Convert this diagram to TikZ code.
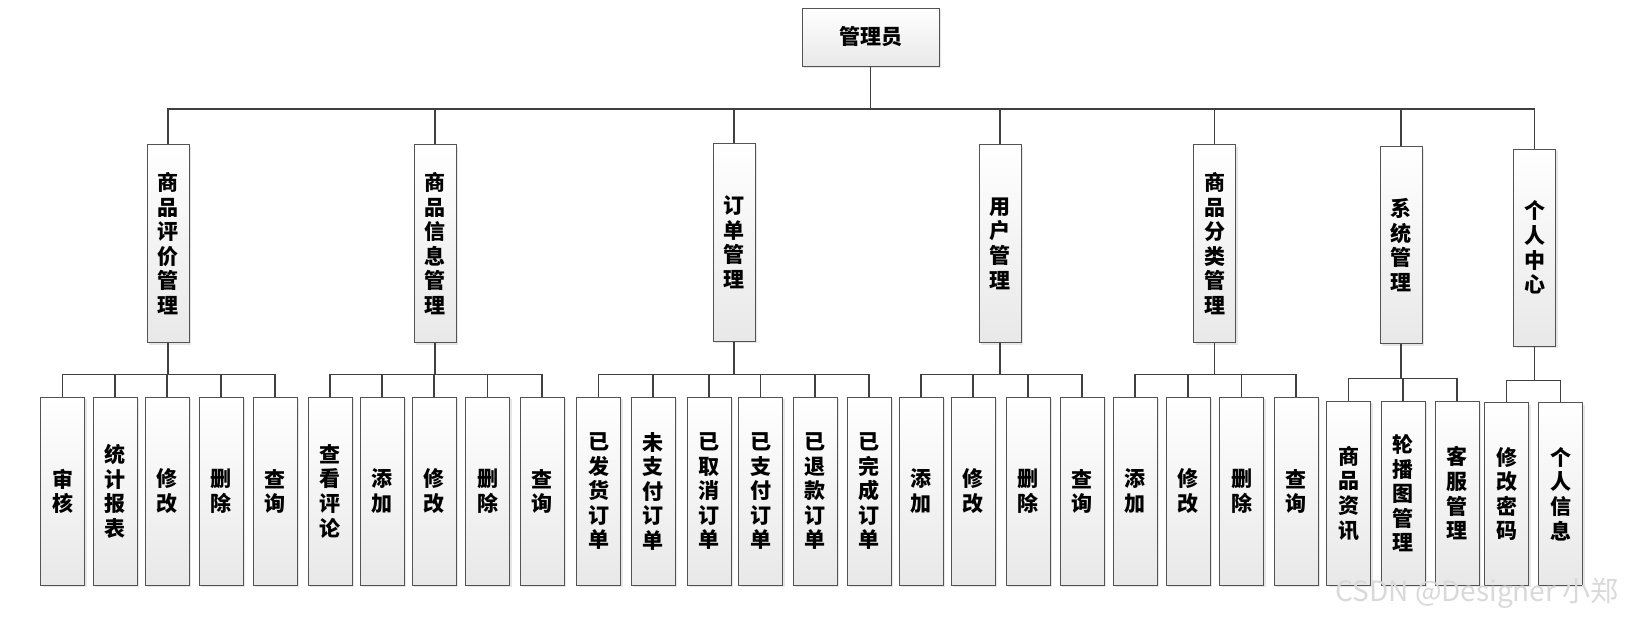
\documentclass[tikz,border=0pt]{standalone}
\usepackage{fontspec}
\setmainfont{Noto Sans CJK SC}
\usetikzlibrary{shadows}

\tikzset{
  box/.style={draw=gray!65!black, line width=0.8pt, top color=white, bottom color=gray!18,
    drop shadow={shadow xshift=2pt, shadow yshift=-2pt, opacity=0.2},
    inner sep=0pt, align=center, font=\bfseries\fontsize{21}{24.6}\selectfont},
  topbox/.style={box, minimum width=137pt, minimum height=58pt},
  midbox/.style={box, minimum width=42pt, minimum height=198pt},
  leafbox/.style={box, minimum width=44pt, minimum height=188pt},
  link/.style={draw=black!75, line width=1.3pt}
}

\begin{document}
\begin{tikzpicture}[x=1pt,y=-1pt]
\useasboundingbox (0,0) rectangle (1639,621);

% root
\draw (870.5,37) node[topbox] (root) {管理员};

% modules
\draw (168,243.6) node[midbox] (pj) {商\\品\\评\\价\\管\\理};
\draw (435,243.6) node[midbox] (xx) {商\\品\\信\\息\\管\\理};
\draw (734,242.4) node[midbox] (dd) {订\\单\\管\\理};
\draw (1000,243.6) node[midbox] (yh) {用\\户\\管\\理};
\draw (1214.5,243.6) node[midbox] (fl) {商\\品\\分\\类\\管\\理};
\draw (1401,245.1) node[midbox,minimum height=197pt] (xt) {系\\统\\管\\理};
\draw (1534.5,247.5) node[midbox,minimum height=197pt] (gr) {个\\人\\中\\心};

% bus lines
\coordinate (bus) at (0,108.9);
\coordinate (pjb) at (0,374.7);
\coordinate (xxb) at (0,374.7);
\coordinate (ddb) at (0,374.7);
\coordinate (yhb) at (0,374.7);
\coordinate (flb) at (0,374.7);
\coordinate (xtb) at (0,378.2);
\coordinate (grb) at (0,380.2);

% leaves
\draw (62.5,491.3) node[leafbox] (pj1) {审\\核};
\draw (115,491.3) node[leafbox] (pj2) {统\\计\\报\\表};
\draw (167,491.3) node[leafbox] (pj3) {修\\改};
\draw (221,491.3) node[leafbox] (pj4) {删\\除};
\draw (275,491.3) node[leafbox] (pj5) {查\\询};

\draw (330,491.3) node[leafbox] (xx1) {查\\看\\评\\论};
\draw (382,491.3) node[leafbox] (xx2) {添\\加};
\draw (434,491.3) node[leafbox] (xx3) {修\\改};
\draw (487.5,491.3) node[leafbox] (xx4) {删\\除};
\draw (542,491.3) node[leafbox] (xx5) {查\\询};

\draw (598.5,491.3) node[leafbox] (dd1) {已\\发\\货\\订\\单};
\draw (653,491.3) node[leafbox] (dd2) {未\\支\\付\\订\\单};
\draw (709,491.3) node[leafbox] (dd3) {已\\取\\消\\订\\单};
\draw (760.5,491.3) node[leafbox] (dd4) {已\\支\\付\\订\\单};
\draw (815,491.3) node[leafbox] (dd5) {已\\退\\款\\订\\单};
\draw (869,491.3) node[leafbox] (dd6) {已\\完\\成\\订\\单};

\draw (921,491.3) node[leafbox] (yh1) {添\\加};
\draw (973,491.3) node[leafbox] (yh2) {修\\改};
\draw (1028,491.3) node[leafbox] (yh3) {删\\除};
\draw (1082,491.3) node[leafbox] (yh4) {查\\询};

\draw (1135,491.3) node[leafbox] (fl1) {添\\加};
\draw (1188,491.3) node[leafbox] (fl2) {修\\改};
\draw (1241.5,491.3) node[leafbox] (fl3) {删\\除};
\draw (1296,491.3) node[leafbox] (fl4) {查\\询};

\draw (1348.5,493.3) node[leafbox,minimum height=184pt] (xt1) {商\\品\\资\\讯};
\draw (1403,493.3) node[leafbox,minimum height=184pt] (xt2) {轮\\播\\图\\管\\理};
\draw (1457,493.3) node[leafbox,minimum height=184pt] (xt3) {客\\服\\管\\理};

\draw (1506.5,494) node[leafbox,minimum height=182.5pt] (gr1) {修\\改\\密\\码};
\draw (1560.5,494) node[leafbox,minimum height=182.5pt] (gr2) {个\\人\\信\\息};

% connectors
\foreach \m in {pj,xx,dd,yh,fl,xt,gr}
  \draw[link] (root.south) -- (root.south |- bus) -| (\m.north);
\foreach \i in {1,...,5} \draw[link] (pj.south) -- (pj.south |- pjb) -| (pj\i.north);
\foreach \i in {1,...,5} \draw[link] (xx.south) -- (xx.south |- xxb) -| (xx\i.north);
\foreach \i in {1,...,6} \draw[link] (dd.south) -- (dd.south |- ddb) -| (dd\i.north);
\foreach \i in {1,...,4} \draw[link] (yh.south) -- (yh.south |- yhb) -| (yh\i.north);
\foreach \i in {1,...,4} \draw[link] (fl.south) -- (fl.south |- flb) -| (fl\i.north);
\foreach \i in {1,...,3} \draw[link] (xt.south) -- (xt.south |- xtb) -| (xt\i.north);
\foreach \i in {1,2} \draw[link] (gr.south) -- (gr.south |- grb) -| (gr\i.north);

% watermark
\node[text=gray!30, font=\fontsize{28}{28}\selectfont] (wm) at (1477,593) {CSDN @Designer 小郑};
\end{tikzpicture}
\end{document}
